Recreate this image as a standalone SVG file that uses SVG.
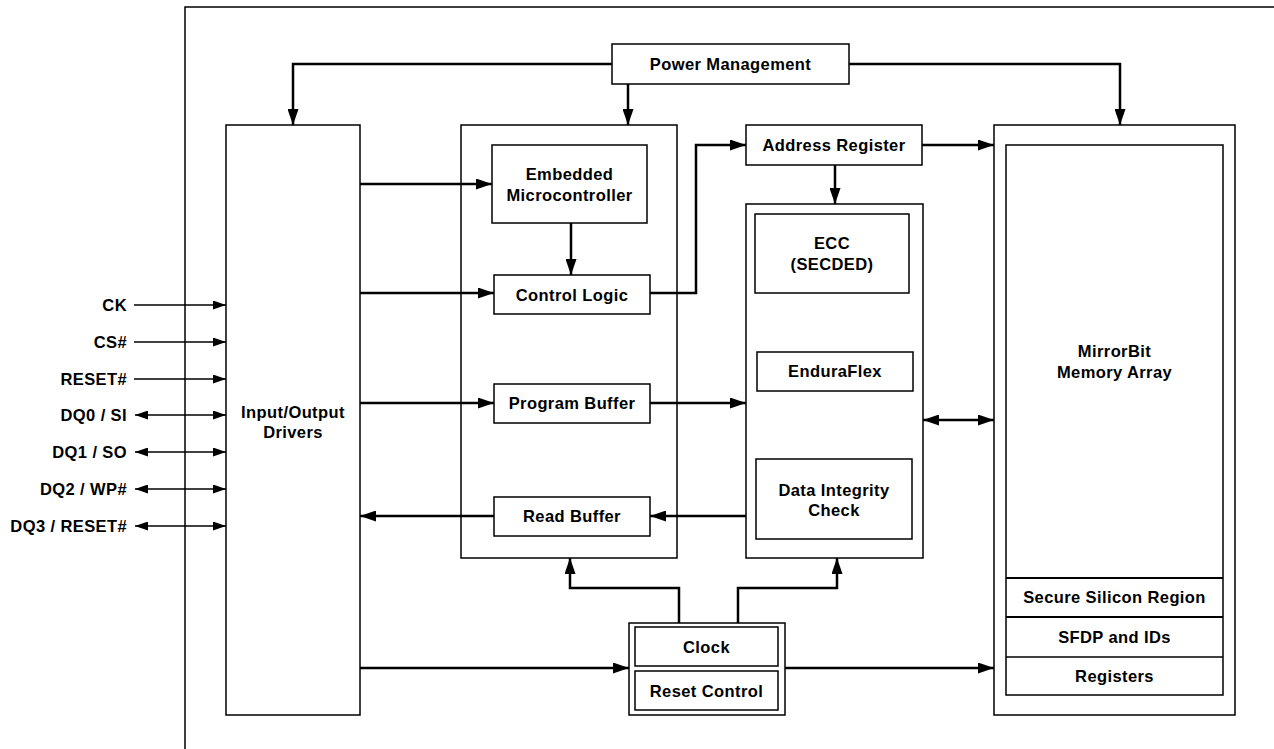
<svg xmlns="http://www.w3.org/2000/svg" width="1274" height="749" viewBox="0 0 1274 749">
<style>
  .box { fill: #ffffff; stroke: #000000; stroke-width: 1.5; }
  .frame { fill: none; stroke: #000000; stroke-width: 1.5; }
  .lbl { font-family: "Liberation Sans", Arial, sans-serif; font-weight: bold; font-size: 16.5px; letter-spacing: 0.4px; fill: #000000; text-anchor: middle; }
  .sig { font-family: "Liberation Sans", Arial, sans-serif; font-weight: bold; font-size: 16.5px; letter-spacing: 0.4px; fill: #000000; text-anchor: end; }
  .con { fill: none; stroke: #000000; stroke-width: 2.5; }
  .sline { fill: none; stroke: #000000; stroke-width: 1.6; }
</style>
<defs>
  <marker id="arr" markerUnits="userSpaceOnUse" viewBox="0 0 16 11" refX="16" refY="5.5" markerWidth="16" markerHeight="11" orient="auto-start-reverse">
    <path d="M0,0 L16,5.5 L0,11 z" fill="#000000"/>
  </marker>
  <marker id="sarr" markerUnits="userSpaceOnUse" viewBox="0 0 13 9" refX="13" refY="4.5" markerWidth="13" markerHeight="9" orient="auto-start-reverse">
    <path d="M0,0 L13,4.5 L0,9 z" fill="#000000"/>
  </marker>
</defs>
<rect width="1274" height="749" fill="#ffffff"/>
<rect id="frame" class="frame" x="185" y="7" width="1200" height="800"/>

<g id="io-drivers">
  <rect class="box" x="226" y="125" width="134" height="590"/>
  <text class="lbl" x="293" y="418">Input/Output</text>
  <text class="lbl" x="293" y="438">Drivers</text>
</g>

<g id="power-management">
  <rect class="box" x="612" y="44" width="237" height="40"/>
  <text class="lbl" x="730.5" y="70">Power Management</text>
</g>

<g id="control-block">
  <rect class="box" x="461" y="125" width="216" height="433"/>
</g>
<g id="embedded-microcontroller">
  <rect class="box" x="492" y="145" width="155" height="78"/>
  <text class="lbl" x="569.5" y="180">Embedded</text>
  <text class="lbl" x="569.5" y="201">Microcontroller</text>
</g>
<g id="control-logic">
  <rect class="box" x="494" y="275" width="156" height="39"/>
  <text class="lbl" x="572" y="301">Control Logic</text>
</g>
<g id="program-buffer">
  <rect class="box" x="494" y="384" width="156" height="39"/>
  <text class="lbl" x="572" y="409">Program Buffer</text>
</g>
<g id="read-buffer">
  <rect class="box" x="494" y="497" width="156" height="39"/>
  <text class="lbl" x="572" y="522">Read Buffer</text>
</g>

<g id="address-register">
  <rect class="box" x="746" y="125" width="176" height="40"/>
  <text class="lbl" x="834" y="151">Address Register</text>
</g>

<g id="ecc-block">
  <rect class="box" x="746" y="204" width="177" height="354"/>
</g>
<g id="ecc">
  <rect class="box" x="755" y="214" width="154" height="79"/>
  <text class="lbl" x="832" y="249">ECC</text>
  <text class="lbl" x="832" y="270">(SECDED)</text>
</g>
<g id="enduraflex">
  <rect class="box" x="757" y="352" width="156" height="39"/>
  <text class="lbl" x="835" y="377">EnduraFlex</text>
</g>
<g id="data-integrity">
  <rect class="box" x="756" y="459" width="156" height="80"/>
  <text class="lbl" x="834" y="496">Data Integrity</text>
  <text class="lbl" x="834" y="516">Check</text>
</g>

<g id="memory-array">
  <rect class="box" x="994" y="125" width="241" height="590"/>
  <rect class="box" x="1006" y="145" width="217" height="550"/>
  <text class="lbl" x="1114.5" y="357">MirrorBit</text>
  <text class="lbl" x="1114.5" y="378">Memory Array</text>
  <line x1="1006" y1="578" x2="1223" y2="578" stroke="#000" stroke-width="2"/>
  <line x1="1006" y1="617" x2="1223" y2="617" stroke="#000" stroke-width="2"/>
  <line x1="1006" y1="657" x2="1223" y2="657" stroke="#000" stroke-width="1.5"/>
  <text class="lbl" x="1114.5" y="603">Secure Silicon Region</text>
  <text class="lbl" x="1114.5" y="643">SFDP and IDs</text>
  <text class="lbl" x="1114.5" y="682">Registers</text>
</g>

<g id="clock-reset">
  <rect class="box" x="629" y="623" width="156" height="92"/>
  <rect class="box" x="635" y="627" width="143" height="39"/>
  <rect class="box" x="635" y="671" width="143" height="39"/>
  <text class="lbl" x="706.5" y="653">Clock</text>
  <text class="lbl" x="706.5" y="697">Reset Control</text>
</g>

<g id="signals">
  <text class="sig" x="127" y="311">CK</text>
  <text class="sig" x="127" y="348">CS#</text>
  <text class="sig" x="127" y="385">RESET#</text>
  <text class="sig" x="127" y="421">DQ0 / SI</text>
  <text class="sig" x="127" y="458">DQ1 / SO</text>
  <text class="sig" x="127" y="495">DQ2 / WP#</text>
  <text class="sig" x="127" y="532">DQ3 / RESET#</text>
  <line class="sline" x1="134" y1="305" x2="226" y2="305" marker-end="url(#sarr)"/>
  <line class="sline" x1="134" y1="342" x2="226" y2="342" marker-end="url(#sarr)"/>
  <line class="sline" x1="134" y1="379" x2="226" y2="379" marker-end="url(#sarr)"/>
  <line class="sline" x1="135" y1="415" x2="226" y2="415" marker-start="url(#sarr)" marker-end="url(#sarr)"/>
  <line class="sline" x1="135" y1="452" x2="226" y2="452" marker-start="url(#sarr)" marker-end="url(#sarr)"/>
  <line class="sline" x1="135" y1="489" x2="226" y2="489" marker-start="url(#sarr)" marker-end="url(#sarr)"/>
  <line class="sline" x1="135" y1="526" x2="226" y2="526" marker-start="url(#sarr)" marker-end="url(#sarr)"/>
</g>

<g id="connectors">
  <polyline class="con" points="612,64 293,64 293,125" marker-end="url(#arr)"/>
  <line class="con" x1="628" y1="84" x2="628" y2="125" marker-end="url(#arr)"/>
  <polyline class="con" points="849,64 1120,64 1120,125" marker-end="url(#arr)"/>
  <line class="con" x1="360" y1="184" x2="492" y2="184" marker-end="url(#arr)"/>
  <line class="con" x1="571" y1="223" x2="571" y2="275" marker-end="url(#arr)"/>
  <line class="con" x1="360" y1="293" x2="494" y2="293" marker-end="url(#arr)"/>
  <polyline class="con" points="650,293 696,293 696,145 746,145" marker-end="url(#arr)"/>
  <line class="con" x1="922" y1="145" x2="994" y2="145" marker-end="url(#arr)"/>
  <line class="con" x1="835" y1="165" x2="835" y2="204" marker-end="url(#arr)"/>
  <line class="con" x1="360" y1="403" x2="494" y2="403" marker-end="url(#arr)"/>
  <line class="con" x1="650" y1="403" x2="746" y2="403" marker-end="url(#arr)"/>
  <line class="con" x1="746" y1="516" x2="650" y2="516" marker-end="url(#arr)"/>
  <line class="con" x1="494" y1="516" x2="360" y2="516" marker-end="url(#arr)"/>
  <line class="con" x1="923" y1="420" x2="994" y2="420" marker-start="url(#arr)" marker-end="url(#arr)"/>
  <polyline class="con" points="679,623 679,588 570,588 570,558" marker-end="url(#arr)"/>
  <polyline class="con" points="738,623 738,588 837,588 837,558" marker-end="url(#arr)"/>
  <line class="con" x1="360" y1="668" x2="629" y2="668" marker-end="url(#arr)"/>
  <line class="con" x1="785" y1="668" x2="994" y2="668" marker-end="url(#arr)"/>
</g>
</svg>
